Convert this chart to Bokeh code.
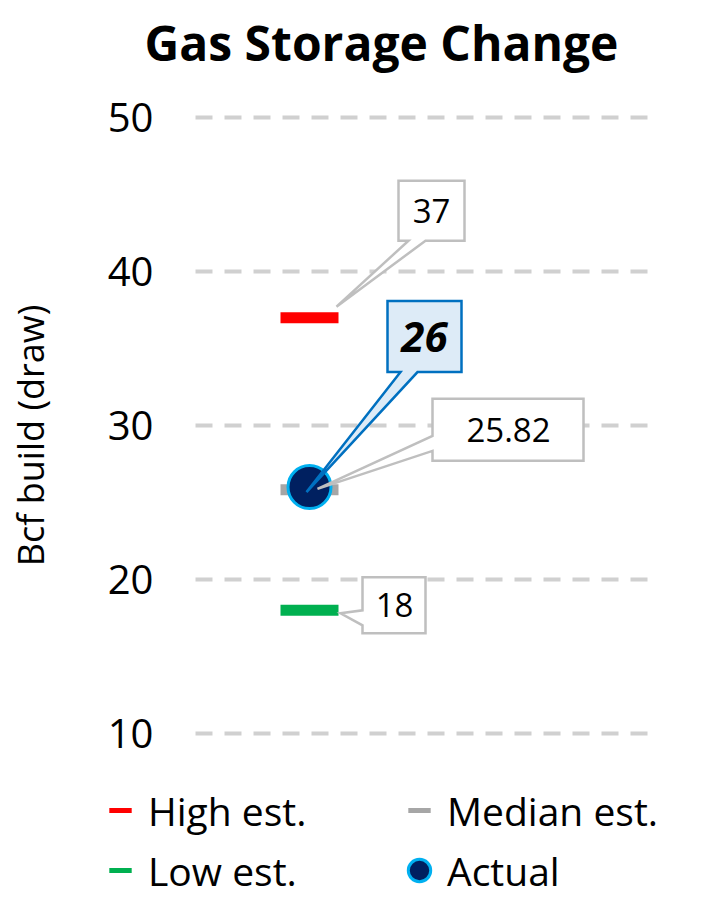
from bokeh.plotting import figure
from bokeh.models import Range1d, FixedTicker, Legend, LegendItem, Label
from bokeh.core.properties import value
from bokeh.embed import file_html
from bokeh.resources import INLINE

# ---------------- data ----------------
category = ["Gas Storage Change"]
high_est = [37]
median_est = [25.82]
low_est = [18]
actual = [26]
y_ticks = [10, 20, 30, 40, 50]
series_names = ["High est.", "Median est.", "Low est.", "Actual"]

FONT = "Open Sans"
X0 = 1  # position of the single category

# ---------------- layout (canvas pixels) ----------------
W, H = 689, 900
PX_X = 4 / 455        # data units per pixel (x)
PX_Y = 1 / 15.4       # data units per pixel (y)
X_CAT_PX = 309        # canvas x of category
Y_TOP_PX = 117        # canvas y of top tick
X_START = X0 - X_CAT_PX * PX_X
X_END = X_START + W * PX_X
Y_END = max(y_ticks) + Y_TOP_PX * PX_Y
Y_START = Y_END - H * PX_Y
GRID_L = X_START + 195 * PX_X
GRID_R = X_START + 650 * PX_X

p = figure(width=W, height=H, output_backend="svg", toolbar_location=None, title=None,
           x_range=Range1d(X_START, X_END), y_range=Range1d(Y_START, Y_END),
           min_border=0)
p.outline_line_color = None
p.background_fill_color = "white"
p.border_fill_color = "white"
p.xgrid.visible = False
p.ygrid.visible = False
p.xaxis.visible = False

# y axis fixed at the left end of the grid
ya = p.yaxis[0]
ya.fixed_location = GRID_L
ya.bounds = (8.7, 50)
ya.ticker = FixedTicker(ticks=y_ticks)
ya.axis_label = "Bcf build (draw)"
ya.axis_label_text_font = FONT
ya.axis_label_text_font_size = "36px"
ya.axis_label_text_font_style = "normal"
ya.axis_label_text_color = "black"
ya.axis_label_standoff = 50
ya.major_label_text_font = FONT
ya.major_label_text_font_size = "40px"
ya.major_label_text_color = "black"
ya.major_label_standoff = 42
ya.axis_line_color = None
ya.major_tick_line_color = None
ya.minor_tick_line_color = None
ya.major_tick_out = 0

# dashed gridlines
p.segment(x0=[GRID_L] * len(y_ticks), x1=[GRID_R] * len(y_ticks), y0=y_ticks, y1=y_ticks,
          line_color="#D0D0D0", line_width=4, line_dash="17 12")

# title
p.add_layout(Label(x=381, y=H - 42, x_units="screen", y_units="screen", text=category[0],
                   text_font=FONT, text_font_size="48px", text_font_style="bold",
                   text_align="center", text_baseline="alphabetic", text_color="black"))

# marks
xs = [X0]
r_med = p.scatter(x=xs, y=median_est, marker="dash", size=58, line_width=11, line_color="#A6A6A6")
r_high = p.scatter(x=xs, y=high_est, marker="dash", size=58, line_width=11, line_color="#FF0000")
r_low = p.scatter(x=xs, y=low_est, marker="dash", size=58, line_width=11, line_color="#00B050")
r_act = p.scatter(x=xs, y=actual, marker="circle", size=43, fill_color="#002060",
                  line_color="#00B0F0", line_width=3)

# legend-only renderers (thin dashes)
nan = [float("nan")]
lg_high = p.scatter(x=xs, y=nan, marker="dash", line_width=5, line_color="#FF0000")
lg_med = p.scatter(x=xs, y=nan, marker="dash", line_width=5, line_color="#A6A6A6")
lg_low = p.scatter(x=xs, y=nan, marker="dash", line_width=5, line_color="#00B050")


def callout(xv, yv, box, base, tip, side):
    l, r, t, b = box
    if side == "bottom":
        pts = [(l, t), (r, t), (r, b), (base[1], b), tip, (base[0], b), (l, b)]
    else:
        pts = [(l, t), (r, t), (r, b), (l, b), (l, base[1]), tip, (l, base[0])]
    return [xv + dx * PX_X for dx, dy in pts], [yv - dy * PX_Y for dx, dy in pts]


def pos(xv, yv, dx, dy):
    return xv + dx * PX_X, yv - dy * PX_Y


def fmt(v):
    return f"{v:g}"


# gray callouts: high, median, low
g_xs, g_ys = [], []
for v, box, base, tip, side in [
    (high_est[0], (89, 155, -137, -77), (99, 116), (27, -11), "bottom"),
    (median_est[0], (123, 274, -91, -29), (-54, -39), (8, -1), "left"),
    (low_est[0], (53, 116, -33, 23), (0, 15), (31, 3), "left"),
]:
    cx, cy = callout(X0, v, box, base, tip, side)
    g_xs.append(cx)
    g_ys.append(cy)
p.patches(g_xs, g_ys, fill_color="white", line_color="#BFBFBF", line_width=2.5, line_join="miter")

bx, by = callout(X0, actual[0], (78, 152, -186, -115), (91, 108), (-3, 5), "bottom")
p.patches([bx], [by], fill_color="#DDEBF7", line_color="#0070C0", line_width=2.5, line_join="miter")

# callout texts
tx, ty, tt = [], [], []
for v, (dx, dy) in [(high_est[0], (122, -107)), (median_est[0], (199, -60)), (low_est[0], (85, -5))]:
    a, b = pos(X0, v, dx, dy)
    tx.append(a)
    ty.append(b)
    tt.append(fmt(v))
p.text(x=tx, y=ty, text=tt, text_font=value(FONT), text_font_size="33px",
       text_align="center", text_baseline="middle", text_color="black")
ax_, ay_ = pos(X0, actual[0], 115, -150)
p.text(x=[ax_], y=[ay_], text=[fmt(actual[0])], text_font=value(FONT), text_font_size="42px",
       text_font_style="bold italic", text_align="center", text_baseline="middle", text_color="black")

# legends
common = dict(orientation="vertical", glyph_width=56, glyph_height=60, spacing=-4,
              label_standoff=0, padding=0, margin=0, border_line_color=None,
              background_fill_alpha=0, label_text_font=FONT, label_text_font_size="39px",
              label_text_color="black")
legA = Legend(items=[LegendItem(label=series_names[0], renderers=[lg_high]),
                     LegendItem(label=series_names[2], renderers=[lg_low])],
              location=(92, 0), **common)
legB = Legend(items=[LegendItem(label=series_names[1], renderers=[lg_med]),
                     LegendItem(label=series_names[3], renderers=[r_act])],
              location=(391, 0), **common)
p.add_layout(legA)
p.add_layout(legB)

open("out.html", "w").write(file_html(p, INLINE))
